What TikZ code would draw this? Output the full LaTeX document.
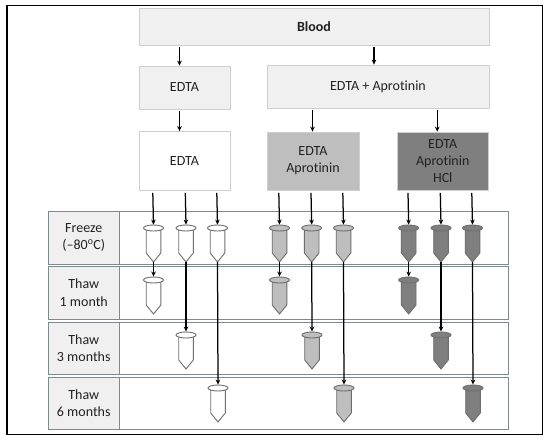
\documentclass[tikz,border=0pt]{standalone}
\usepackage{fontspec}
\setmainfont[Ligatures=NoCommon]{Carlito}
\usetikzlibrary{arrows.meta,calc,shapes.geometric}
\definecolor{boxline}{HTML}{CFCFCF}
\definecolor{lightbox}{HTML}{F0F0F0}
\definecolor{midgray}{HTML}{BEBEBE}
\definecolor{darkgray}{HTML}{7F7F7F}
\definecolor{rowline}{HTML}{7E8A8E}
\definecolor{tubeline}{HTML}{6E6E6E}
\definecolor{textc}{HTML}{222222}
\tikzset{
  flowbox/.style={draw=boxline,line width=0.8pt,inner sep=0pt,text=textc,align=center,font=\fontsize{14}{17}\selectfont},
  rowbox/.style={draw=rowline,line width=1pt,fill=white},
  rowlabel/.style={draw=rowline,line width=1pt,fill=lightbox,inner sep=0pt,text=textc,align=center,font=\fontsize{14}{17.5}\selectfont},
  arr/.style={-{Stealth[length=5pt,width=4.6pt]},line width=1.25pt,black},
  tubebody/.style={line width=0.9pt,line join=miter},
  tubelid/.style={draw=tubeline,line width=0.9pt,shape=ellipse,minimum width=20pt,minimum height=6pt,inner sep=0pt},
}
\newcommand{\tube}[4]{% name, cx, lid y, fill
  \draw[tubebody,draw=tubeline,fill=#4] (#2-7.3,#3) -- (#2-7.3,#3+25) -- (#2,#3+34) -- (#2+7.3,#3+25) -- (#2+7.3,#3) -- cycle;
  \node[tubelid,fill=#4] (#1) at (#2,#3) {};
  \coordinate (#1-tip) at (#2,#3+34);
}
\newcommand{\bx}[7]{% name x1 y1 x2 y2 fill text
  \node[flowbox,fill=#6,minimum width=#4pt-#2pt,minimum height=#5pt-#3pt] (#1) at ({(#2+#4)/2},{(#3+#5)/2}) {#7};
}
\newcommand{\rowlab}[5]{% name y1 y2 line1 line2
  \draw[rowbox] (48,#2) rectangle (508,#3);
  \node[rowlabel,minimum width=71.5pt,minimum height=#3pt-#2pt] (#1) at (83.75,{(#2+#3)/2}) {#4\\#5};
}
\begin{document}
\begin{tikzpicture}[x=1pt,y=-1pt]
\useasboundingbox (0,0) rectangle (550,440);
\fill[white] (0,0) rectangle (550,440);
\draw[black,line width=1.9pt] (7,5.5) rectangle (542.5,434.5);

\bx{blood}{139}{8.5}{489}{45}{lightbox}{\textbf{Blood}}
\bx{edta}{139}{66}{230}{109}{lightbox}{EDTA}
\bx{edtaA}{267}{65}{489}{108}{lightbox}{EDTA + Aprotinin}
\bx{white}{139}{131.5}{230}{190}{white}{EDTA}
\bx{gray}{267}{132}{359}{190}{midgray}{EDTA\\Aprotinin}
\bx{dark}{397}{132}{488.5}{190}{darkgray}{EDTA\\Aprotinin\\HCl}

\rowlab{freeze}{211}{264}{Freeze}{(–80\textsuperscript{o}C)}
\rowlab{m1}{266}{319}{Thaw}{1 month}
\rowlab{m3}{322}{374}{Thaw}{3 months}
\rowlab{m6}{377}{429}{Thaw}{6 months}

\tube{wa}{153.5}{228}{white}
\tube{wb}{186}{228}{white}
\tube{wc}{217.5}{228}{white}
\tube{ga}{279.5}{228}{midgray}
\tube{gb}{311.7}{228}{midgray}
\tube{gc}{343.5}{228}{midgray}
\tube{da}{408.7}{228}{darkgray}
\tube{db}{441}{228}{darkgray}
\tube{dc}{472.5}{228}{darkgray}

\tube{wa1}{153.5}{280}{white}
\tube{ga1}{279.5}{280}{midgray}
\tube{da1}{408.7}{280}{darkgray}
\tube{wb3}{186}{335}{white}
\tube{gb3}{312}{335}{midgray}
\tube{db3}{441}{335}{darkgray}
\tube{wc6}{218}{388}{white}
\tube{gc6}{344}{388}{midgray}
\tube{dc6}{473}{388}{darkgray}

\coordinate (etop) at ($(edta.north)+(-5,0)$);
\coordinate (wtop) at ($(white.north)+(-5,0)$);
\coordinate (atop) at ($(edtaA.north)+(-4,0)$);
\coordinate (gtop) at ($(gray.north)+(-0.5,0)$);
\coordinate (dtop) at ($(dark.north)+(-5.5,0)$);
\draw[arr] ($(blood.south -| etop)+(0,1.5)$) -- (etop);
\draw[arr] ($(edta.south -| wtop)+(0,2)$) -- (wtop);
\draw[arr] ($(blood.south -| atop)+(0,1.5)$) -- (atop);
\draw[arr] ($(edtaA.south -| gtop)+(0,2)$) -- (gtop);
\draw[arr] ($(edtaA.south -| dtop)+(0,2)$) -- (dtop);

\foreach \src/\dst in {white/wa,white/wb,white/wc,gray/ga,gray/gb,gray/gc,dark/da,dark/db,dark/dc}{
  \draw[arr] ($(\src.south -| \dst.north)+(-0.7,2.5)$) -- (\dst.north);
}
\foreach \src/\dst in {wa/wa1,wb/wb3,wc/wc6,ga/ga1,gb/gb3,gc/gc6,da/da1,db/db3,dc/dc6}{
  \draw[arr] (\src-tip) -- (\dst.north);
}
\end{tikzpicture}
\end{document}
